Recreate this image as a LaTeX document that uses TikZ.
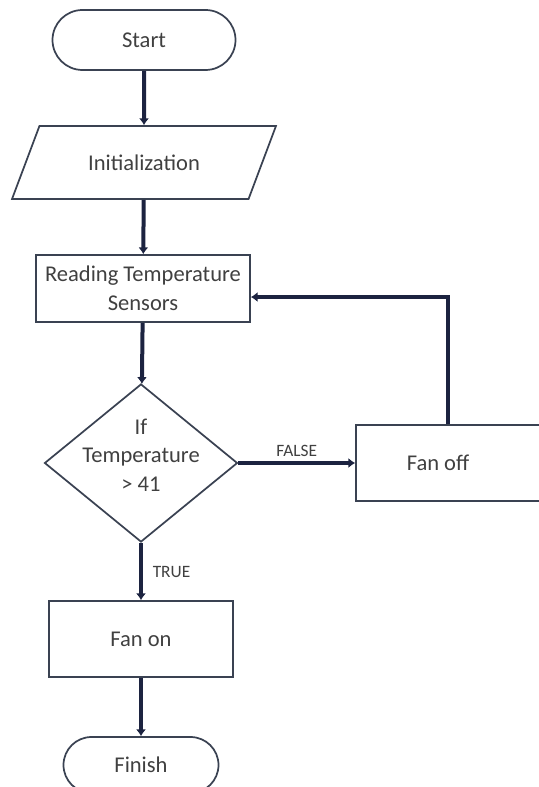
\documentclass[tikz,border=0pt]{standalone}
\usepackage{fontspec}
\setmainfont{Carlito}
\usetikzlibrary{shapes.geometric,arrows.meta}
\definecolor{navy}{HTML}{1C2340}
\definecolor{edgegray}{HTML}{3A4252}
\definecolor{txtgray}{HTML}{404040}
\tikzset{
  box/.style={draw=edgegray,line width=1.3pt,text=txtgray,inner sep=2pt,
    font=\fontsize{16.9}{21.5}\selectfont},
  term/.style={box,rectangle,rounded corners=#1},
  io/.style={box,trapezium,trapezium left angle=54,trapezium right angle=126,
    trapezium stretches=true},
  proc/.style={box,rectangle,align=center},
  decide/.style={box,diamond,inner sep=0pt},
  flow/.style={draw=navy,line width=3pt,-{Latex[length=5pt,width=7.5pt]}},
  lbl/.style={font=\fontsize{13}{15}\selectfont,text=txtgray}
}
\begin{document}
\begin{tikzpicture}[x=0.75pt,y=-0.75pt]
\useasboundingbox (0,0) rectangle (538,787);
% nodes
\node[term=22.5pt,minimum width=137.25pt,minimum height=45pt] (start) at (144,40) {Start};
\node[io,minimum width=198pt,minimum height=54.75pt] (init) at (144,162.5) {Initialization};
\node[proc,minimum width=160.5pt,minimum height=50.25pt] (read) at (143,288.5) {Reading Temperature\\Sensors};
\node[decide,minimum width=144.75pt,minimum height=118.5pt] (check) at (141,463)
  {\makebox[0pt]{\smash{\begin{tabular}{@{}c@{}}If\\Temperature\\> 41\end{tabular}}}};
\node[proc,minimum width=150pt,minimum height=57pt] (fanoff) at (456,463) {Fan off\hspace{27pt}};
\node[proc,minimum width=138pt,minimum height=57pt] (fanon) at (141,639) {Fan on};
\node[term=21pt,minimum width=116.25pt,minimum height=42pt] (finish) at (141,765) {Finish};
% connectors
\draw[flow] (start) -- (init);
\draw[flow] (init) -- (read);
\draw[flow] (read) -- (check);
\draw[flow] (check) -- node[lbl,above] {FALSE} (fanoff);
\draw[flow] ([xshift=-6pt]fanoff.north) |- ([yshift=-6.4pt]read.east);
\draw[flow] (check) -- node[lbl,right,xshift=4pt] {TRUE} (fanon);
\draw[flow] (fanon) -- (finish);
\end{tikzpicture}
\end{document}
